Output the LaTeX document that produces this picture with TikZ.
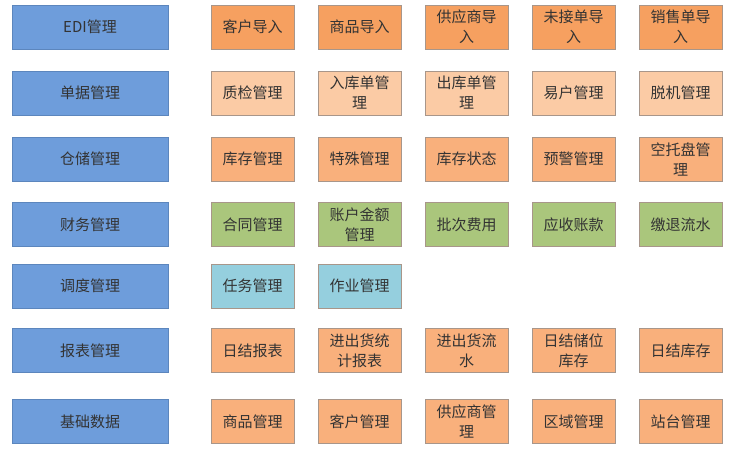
\documentclass[tikz,border=0pt]{standalone}
\usepackage{fontspec}
\newfontfamily\cjk{Noto Sans CJK SC}
\usepackage{xcolor}
\definecolor{modblue}{HTML}{6E9DDB}
\definecolor{modline}{HTML}{5C86BD}
\definecolor{deeporange}{HTML}{F6A060}
\definecolor{peach}{HTML}{FBCBA5}
\definecolor{midorange}{HTML}{F9B07C}
\definecolor{leafgreen}{HTML}{AAC67C}
\definecolor{skycyan}{HTML}{95CFDE}
\definecolor{boxline}{HTML}{A8968A}
\definecolor{txtgray}{HTML}{333333}
\tikzset{
  module/.style={draw=modline,fill=modblue,thick,minimum width=156pt,minimum height=44pt,
    inner sep=0pt,font=\cjk\fontsize{15}{20}\selectfont,text=txtgray},
  func/.style={draw=boxline,thick,minimum width=83pt,minimum height=44pt,inner sep=0pt,
    align=center,font=\cjk\fontsize{15}{20}\selectfont,text=txtgray}
}
\begin{document}
\begin{tikzpicture}[x=1pt,y=-1pt]
\useasboundingbox (0,0) rectangle (738,455);
% modules on the left
\node (m1) [module] at (90,27) {EDI管理};
\node (m2) [module] at (90,93) {单据管理};
\node (m3) [module] at (90,159) {仓储管理};
\node (m4) [module] at (90,224.5) {财务管理};
\node (m5) [module] at (90,286) {调度管理};
\node (m6) [module] at (90,350.5) {报表管理};
\node (m7) [module] at (90,421.5) {基础数据};
%
\node (f11) [func,fill=deeporange] at (252.5,27) {客户导入};
\node (f12) [func,fill=deeporange] at (359.5,27) {商品导入};
\node (f13) [func,fill=deeporange] at (466.5,27) {供应商导\\入};
\node (f14) [func,fill=deeporange] at (573.5,27) {未接单导\\入};
\node (f15) [func,fill=deeporange] at (680.5,27) {销售单导\\入};
%
\node (f21) [func,fill=peach] at (252.5,93) {质检管理};
\node (f22) [func,fill=peach] at (359.5,93) {入库单管\\理};
\node (f23) [func,fill=peach] at (466.5,93) {出库单管\\理};
\node (f24) [func,fill=peach] at (573.5,93) {易户管理};
\node (f25) [func,fill=peach] at (680.5,93) {脱机管理};
%
\node (f31) [func,fill=midorange] at (252.5,159) {库存管理};
\node (f32) [func,fill=midorange] at (359.5,159) {特殊管理};
\node (f33) [func,fill=midorange] at (466.5,159) {库存状态};
\node (f34) [func,fill=midorange] at (573.5,159) {预警管理};
\node (f35) [func,fill=midorange] at (680.5,159) {空托盘管\\理};
%
\node (f41) [func,fill=leafgreen] at (252.5,224.5) {合同管理};
\node (f42) [func,fill=leafgreen] at (359.5,224.5) {账户金额\\管理};
\node (f43) [func,fill=leafgreen] at (466.5,224.5) {批次费用};
\node (f44) [func,fill=leafgreen] at (573.5,224.5) {应收账款};
\node (f45) [func,fill=leafgreen] at (680.5,224.5) {缴退流水};
%
\node (f51) [func,fill=skycyan] at (252.5,286) {任务管理};
\node (f52) [func,fill=skycyan] at (359.5,286) {作业管理};
%
\node (f61) [func,fill=midorange] at (252.5,350.5) {日结报表};
\node (f62) [func,fill=midorange] at (359.5,350.5) {进出货统\\计报表};
\node (f63) [func,fill=midorange] at (466.5,350.5) {进出货流\\水};
\node (f64) [func,fill=midorange] at (573.5,350.5) {日结储位\\库存};
\node (f65) [func,fill=midorange] at (680.5,350.5) {日结库存};
%
\node (f71) [func,fill=midorange] at (252.5,421.5) {商品管理};
\node (f72) [func,fill=midorange] at (359.5,421.5) {客户管理};
\node (f73) [func,fill=midorange] at (466.5,421.5) {供应商管\\理};
\node (f74) [func,fill=midorange] at (573.5,421.5) {区域管理};
\node (f75) [func,fill=midorange] at (680.5,421.5) {站台管理};
\end{tikzpicture}
\end{document}
